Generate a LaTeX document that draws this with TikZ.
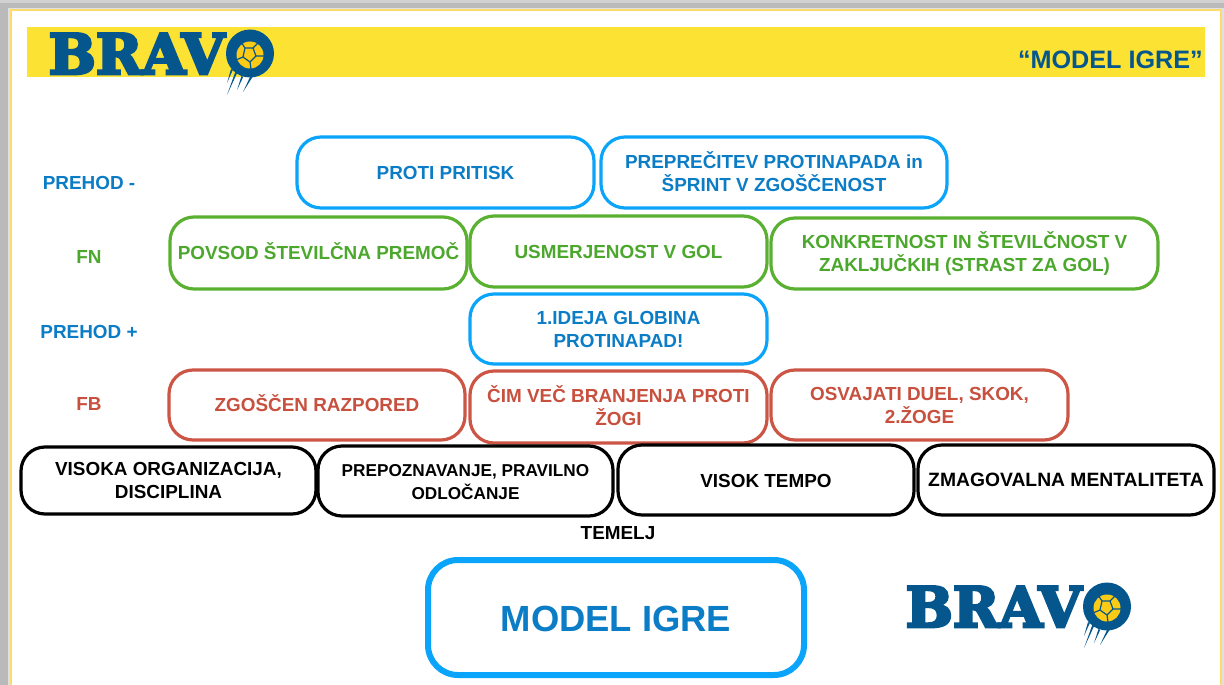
\documentclass[tikz,border=0pt]{standalone}
\usepackage{fontspec}
\usepackage{graphicx}
\setmainfont{Liberation Sans}
\newfontfamily\brandfont[FakeBold=5]{DejaVu Serif}
\definecolor{skyb}{HTML}{0AA5FA}
\definecolor{txtb}{HTML}{0B7CC6}
\definecolor{grn}{HTML}{5AB030}
\definecolor{txtg}{HTML}{4CA82C}
\definecolor{rd}{HTML}{CC5545}
\definecolor{txtr}{HTML}{C8503E}
\definecolor{navy}{HTML}{04568C}
\definecolor{ylw}{HTML}{FBE233}
\definecolor{ball}{HTML}{FCCB16}
\definecolor{frame}{HTML}{FADB6C}
\newcommand{\onel}[2]{\raisebox{#1pt}[13.5pt][0pt]{#2}}
\newcommand{\twol}[3]{\raisebox{0pt}[13.5pt][0pt]{\makebox[0pt]{\raisebox{\dimexpr#1pt+11.5pt}{#2}}\makebox[0pt]{\raisebox{\dimexpr#1pt-11.5pt}{#3}}}}
\tikzset{
 x=1pt,y=-1pt,
 pill/.style={draw,rounded corners=24pt,line width=3.2pt,align=center,font=\bfseries\fontsize{18.9}{23}\selectfont,inner sep=0pt},
 bluep/.style={pill,draw=skyb,text=txtb},
 greenp/.style={pill,draw=grn,text=txtg},
 redp/.style={pill,draw=rd,text=txtr},
 blackp/.style={pill,draw=black,text=black},
 lab/.style={font=\bfseries\fontsize{18.9}{22}\selectfont,inner sep=0pt},
 logopic/.pic={
  \node[anchor=base west,inner sep=0pt,text=navy] (-brav) at (48.5,74)
    {\resizebox{176pt}{40.5pt}{\brandfont\bfseries BRAV}};
  \fill[navy] (250,53.5) circle[radius=24];
  \fill[ball] (250,55) circle[radius=13.5];
  \draw[navy,line width=1.2pt] (245,48) -- (253,48) -- (256,56) -- (250,62) -- (243,57) -- cycle
    (245,48) -- (241,42) (253,48) -- (258,43) (256,56) -- (264,56) (250,62) -- (251,69) (243,57) -- (236,60);
  \fill[navy] (236,70)--(238,71)--(227,95)--cycle;
  \fill[navy] (231,69)--(232.8,70)--(227,83)--cycle;
  \fill[navy] (241.5,76)--(243.2,77)--(237,90)--cycle;
  \fill[navy] (250.5,76)--(252.5,77)--(243,92)--cycle;
 }
}
\begin{document}
\begin{tikzpicture}
\useasboundingbox (0,0) rectangle (1224,685);
\fill[black!18] (0,0) rectangle (1224,685);
\fill[black!27] (0,3) rectangle (1224,685);
\fill[black!12] (8,8) rectangle (1224,685);
\draw[frame,line width=2pt,fill=white] (10.5,10.5) rectangle (1220.5,700);
\fill[ylw] (27,27) rectangle (1205,77);
\pic (logoa) at (0,0) {logopic};
\pic (logob) at (857,553) {logopic};
\node[anchor=east,inner sep=0pt,text=navy,font=\bfseries\fontsize{25.2}{30}\selectfont] (title) at (1203,60) {“MODEL IGRE”};
\node[bluep,minimum width=297pt,minimum height=71pt] (a1) at (445.5,172.5) {\onel{-0.5}{PROTI PRITISK}};
\node[bluep,minimum width=346pt,minimum height=71pt] (a2) at (774,172.5) {\twol{-1}{PREPREČITEV PROTINAPADA in}{ŠPRINT V ZGOŠČENOST}};
\node[greenp,minimum width=297pt,minimum height=72pt] (b1) at (318.5,253) {\onel{0}{POVSOD ŠTEVILČNA PREMOČ}};
\node[greenp,minimum width=297pt,minimum height=71pt] (b2) at (618.5,251.5) {\onel{0}{USMERJENOST V GOL}};
\node[greenp,minimum width=387pt,minimum height=71pt] (b3) at (964.5,253.5) {\twol{0}{KONKRETNOST IN ŠTEVILČNOST V}{ZAKLJUČKIH (STRAST ZA GOL)}};
\node[bluep,minimum width=297pt,minimum height=70pt] (c1) at (618.5,329) {\twol{-0.5}{1.IDEJA GLOBINA}{PROTINAPAD!}};
\node[redp,minimum width=296pt,minimum height=70pt] (d1) at (317,405) {\onel{0}{ZGOŠČEN RAZPORED}};
\node[redp,minimum width=297pt,minimum height=72pt] (d2) at (618.5,407) {\twol{-0.5}{ČIM VEČ BRANJENJA PROTI}{ŽOGI}};
\node[redp,minimum width=297pt,minimum height=70pt] (d3) at (919.5,405) {\twol{-0.5}{OSVAJATI DUEL, SKOK,}{2.ŽOGE}};
\node[blackp,minimum width=295pt,minimum height=67pt] (e1) at (168.5,480.5) {\twol{0}{VISOKA ORGANIZACIJA,}{DISCIPLINA}};
\node[blackp,minimum width=295pt,minimum height=70pt,font=\bfseries\fontsize{17.2}{23}\selectfont] (e2) at (465.5,481) {\twol{-0.5}{PREPOZNAVANJE, PRAVILNO}{ODLOČANJE}};
\node[blackp,minimum width=296pt,minimum height=70pt] (e3) at (766,480) {\onel{-1}{VISOK TEMPO}};
\node[blackp,minimum width=296pt,minimum height=70pt,font=\bfseries\fontsize{19.3}{23}\selectfont] (e4) at (1066,480) {\onel{0}{ZMAGOVALNA MENTALITETA}};
\node[lab,text=txtb] (l1) at (89,183) {\onel{0}{PREHOD -}};
\node[lab,text=txtg] (l2) at (89,257) {\onel{0}{FN}};
\node[lab,text=txtb] (l3) at (89,332) {\onel{0}{PREHOD +}};
\node[lab,text=txtr] (l4) at (89,404) {\onel{0}{FB}};
\node[lab,text=black] (l5) at (618,533) {\onel{0}{TEMELJ}};
\node[pill,draw=skyb,text=txtb,line width=6pt,rounded corners=30pt,minimum width=376pt,minimum height=115pt,font=\bfseries\fontsize{36.4}{44}\selectfont] (m) at (616,617.5) {\raisebox{-1pt}[26pt][0pt]{MODEL IGRE}};
\end{tikzpicture}
\end{document}
